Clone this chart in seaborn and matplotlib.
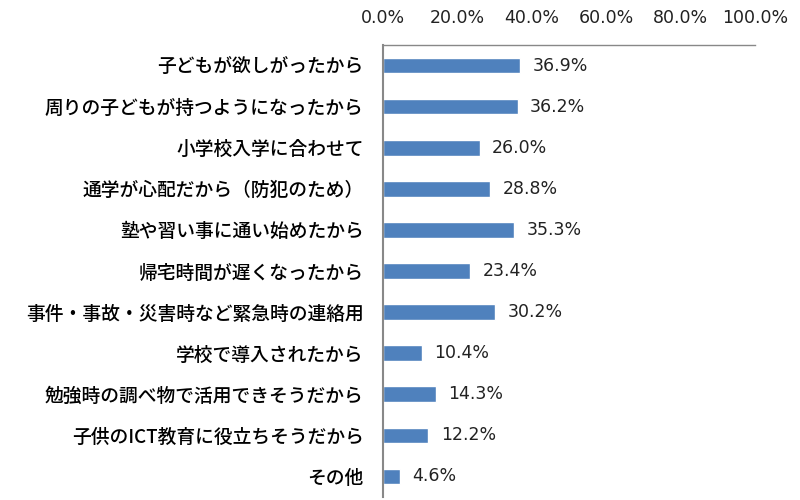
import matplotlib
matplotlib.use("Agg")
import matplotlib.pyplot as plt
import seaborn as sns
import pandas as pd
from matplotlib.ticker import FixedLocator

# data
reasons = [
    "子どもが欲しがったから",
    "周りの子どもが持つようになったから",
    "小学校入学に合わせて",
    "通学が心配だから（防犯のため）",
    "塾や習い事に通い始めたから",
    "帰宅時間が遅くなったから",
    "事件・事故・災害時など緊急時の連絡用",
    "学校で導入されたから",
    "勉強時の調べ物で活用できそうだから",
    "子供のICT教育に役立ちそうだから",
    "その他",
]
percent = [36.9, 36.2, 26.0, 28.8, 35.3, 23.4, 30.2, 10.4, 14.3, 12.2, 4.6]
x_ticks = [0, 20, 40, 60, 80, 100]

df = pd.DataFrame({"reason": reasons, "percent": percent})

sns.set_style("white")
plt.rcParams["font.family"] = ["Noto Sans CJK JP", "DejaVu Sans"]

fig = plt.figure(figsize=(8, 5), dpi=100)
ax = fig.add_axes([383 / 800, 1 - 497 / 500, (755 - 383) / 800, (497 - 45) / 500])

sns.barplot(data=df, x="percent", y="reason", orient="h", color="#4F81BD",
            saturation=1, width=0.38, ax=ax)

ax.set_xlim(0, 100)
ax.set_ylim(len(reasons) - 0.5, -0.5)
ax.xaxis.tick_top()
ax.set_xticks(x_ticks)
ax.set_xticklabels([f"{t:.1f}%" for t in x_ticks], fontfamily="DejaVu Sans",
                   fontsize=12.5, color="#222222")
ax.tick_params(axis="x", length=0, pad=13)
ax.tick_params(axis="y", length=0, pad=14, labelsize=13.5, labelcolor="#000000")
for lab in ax.get_yticklabels():
    lab.set_fontweight("medium")

ax.yaxis.set_minor_locator(FixedLocator([i + 0.5 for i in range(len(reasons) - 1)]))
ax.tick_params(axis="y", which="minor", direction="in", length=5, color="#888888", width=1)

ax.set_xlabel("")
ax.set_ylabel("")
for side in ["right", "bottom"]:
    ax.spines[side].set_visible(False)
ax.spines["left"].set_color("#888888")
ax.spines["left"].set_linewidth(1.5)
ax.spines["top"].set_color("#888888")
ax.spines["top"].set_linewidth(1)

for i, v in enumerate(percent):
    ax.text(v + 3.3, i, f"{v:.1f}%", va="center", ha="left", fontsize=12.5,
            fontfamily="DejaVu Sans", color="#222222")

fig.savefig("out.png", dpi=100)
